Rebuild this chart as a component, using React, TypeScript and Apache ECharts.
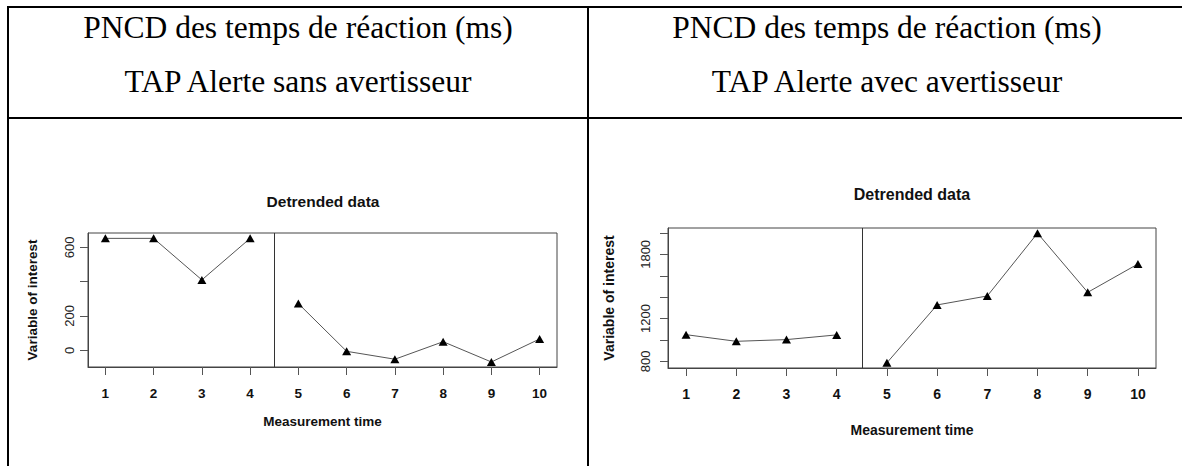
import React, { useEffect, useRef } from "react";
import * as echarts from "echarts";

// ---- data ----
const times = [1, 2, 3, 4, 5, 6, 7, 8, 9, 10];
const phaseATimes = [1, 2, 3, 4];
const phaseBTimes = [5, 6, 7, 8, 9, 10];
const leftPhaseA = [652, 652, 410, 652];
const leftPhaseB = [272, -6, -52, 50, -68, 66];
const rightPhaseA = [1049, 987, 1003, 1047];
const rightPhaseB = [786, 1327, 1411, 1998, 1445, 1710];
const leftYTicks = [0, 200, 400, 600];
const leftYLabels = [0, 200, 600];
const rightYTicks = [800, 1000, 1200, 1400, 1600, 1800, 2000];
const rightYLabels = [800, 1200, 1800];
const phaseChange = 4.5;
const headerLine1 = "PNCD des temps de réaction (ms)";
const headerLeft = "TAP Alerte sans avertisseur";
const headerRight = "TAP Alerte avec avertisseur";
const plotTitle = "Detrended data";
const xName = "Measurement time";
const yName = "Variable of interest";

const SANS = "Liberation Sans, Arial, sans-serif";
const SERIF = "Liberation Serif, Times New Roman, serif";

function pairs(xs: number[], ys: number[]) {
  return xs.map((x, i) => [x, ys[i]]);
}

const plain = (v: number) => String(v);

function xAxisFor(gridIndex: number, fontSize: number, labelMargin: number, nameGap: number, nameSize: number) {
  return {
    type: "value",
    gridIndex,
    min: 0.64,
    max: 10.36,
    axisLine: { show: true, onZero: false, lineStyle: { color: "#444", width: 1 } },
    axisTick: { show: true, length: 8, lineStyle: { color: "#555", width: 1 }, customValues: times },
    axisLabel: {
      customValues: times,
      formatter: plain,
      margin: labelMargin,
      fontSize,
      fontWeight: "bold",
      fontFamily: SANS,
      color: "#111",
    },
    splitLine: { show: false },
    name: xName,
    nameLocation: "middle",
    nameGap,
    nameTextStyle: { fontSize: nameSize, fontWeight: "bold", fontFamily: SANS, color: "#111" },
  };
}

function yAxisFor(
  gridIndex: number,
  min: number,
  max: number,
  ticks: number[],
  labels: number[],
  fontSize: number,
  labelMargin: number,
  nameGap: number,
  nameSize: number
) {
  return {
    type: "value",
    gridIndex,
    min,
    max,
    axisLine: { show: true, onZero: false, lineStyle: { color: "#444", width: 1 } },
    axisTick: { show: true, length: 8, lineStyle: { color: "#555", width: 1 }, customValues: ticks },
    axisLabel: {
      customValues: labels,
      formatter: plain,
      rotate: 90,
      align: "center",
      verticalAlign: "bottom",
      margin: labelMargin,
      fontSize,
      fontFamily: SANS,
      color: "#222",
    },
    splitLine: { show: false },
    name: yName,
    nameLocation: "middle",
    nameGap,
    nameMoveOverlap: false,
    nameTextStyle: { fontSize: nameSize, fontWeight: "bold", fontFamily: SANS, color: "#111" },
  };
}

function lineSeries(xi: number, data: number[][], withMark: boolean) {
  const s: any = {
    type: "line",
    xAxisIndex: xi,
    yAxisIndex: xi,
    data,
    symbol: "triangle",
    symbolSize: [9, 8],
    itemStyle: { color: "#000" },
    lineStyle: { color: "#555", width: 1 },
    silent: true,
  };
  if (withMark) {
    s.markLine = {
      silent: true,
      symbol: ["none", "none"],
      label: { show: false },
      lineStyle: { color: "#333", width: 1, type: "solid" },
      data: [{ xAxis: phaseChange }],
    };
  }
  return s;
}

export default function App() {
  const ref = useRef<HTMLDivElement>(null);
  useEffect(() => {
    if (!ref.current) return;
    const chart = echarts.init(ref.current, undefined, { renderer: "svg" });
    const grids = [
      { left: 88, top: 233, width: 469, height: 134 },
      { left: 668, top: 228, width: 488, height: 140 },
    ];
    chart.setOption({
      animation: false,
      backgroundColor: "#fff",
      grid: grids.map((g) => ({ ...g, show: true, borderColor: "#444", borderWidth: 1, backgroundColor: "transparent", containLabel: false })),
      xAxis: [xAxisFor(0, 13.5, 19, 47, 13.5), xAxisFor(1, 14, 19, 55, 14)],
      yAxis: [
        yAxisFor(0, -97.3, 683.3, leftYTicks, leftYLabels, 13, 12, 49, 13.5),
        yAxisFor(1, 737.5, 2046.5, rightYTicks, rightYLabels, 13, 16, 52, 14),
      ],
      series: [
        lineSeries(0, pairs(phaseATimes, leftPhaseA), true),
        lineSeries(0, pairs(phaseBTimes, leftPhaseB), false),
        lineSeries(1, pairs(phaseATimes, rightPhaseA), true),
        lineSeries(1, pairs(phaseBTimes, rightPhaseB), false),
      ],
      graphic: [
        { type: "rect", shape: { x: 7, y: 6, width: 1175, height: 2 }, style: { fill: "#000" } },
        { type: "rect", shape: { x: 7, y: 6, width: 2, height: 460 }, style: { fill: "#000" } },
        { type: "rect", shape: { x: 587, y: 6, width: 2, height: 460 }, style: { fill: "#000" } },
        { type: "rect", shape: { x: 7, y: 117, width: 1175, height: 2 }, style: { fill: "#000" } },
        { type: "text", x: 298, y: 27, style: { text: headerLine1, font: `31.5px ${SERIF}`, fill: "#000", textAlign: "center", textVerticalAlign: "middle" } },
        { type: "text", x: 298, y: 81, style: { text: headerLeft, font: `31.5px ${SERIF}`, fill: "#000", textAlign: "center", textVerticalAlign: "middle" } },
        { type: "text", x: 887, y: 27, style: { text: headerLine1, font: `31.5px ${SERIF}`, fill: "#000", textAlign: "center", textVerticalAlign: "middle" } },
        { type: "text", x: 887, y: 81, style: { text: headerRight, font: `31.5px ${SERIF}`, fill: "#000", textAlign: "center", textVerticalAlign: "middle" } },
        { type: "text", x: 323, y: 201, style: { text: plotTitle, font: `bold 15.5px ${SANS}`, fill: "#111", textAlign: "center", textVerticalAlign: "middle" } },
        { type: "text", x: 912, y: 194, style: { text: plotTitle, font: `bold 16px ${SANS}`, fill: "#111", textAlign: "center", textVerticalAlign: "middle" } },
      ],
    });
    return () => chart.dispose();
  }, []);
  return <div ref={ref} style={{ position: "absolute", left: 0, top: 0, width: 1182, height: 466 }} />;
}
